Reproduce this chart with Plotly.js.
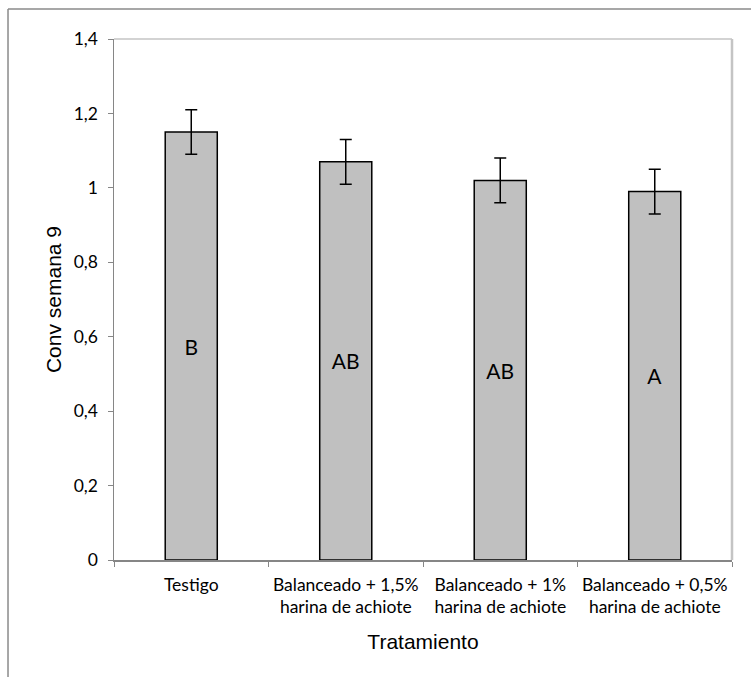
<!DOCTYPE html>
<html>
<head>
<meta charset="utf-8">
<script src="https://cdn.plot.ly/plotly-3.0.1.min.js"></script>
<style>
  html, body { margin: 0; padding: 0; background: #fff; }
  #chart { width: 751px; height: 677px; }
</style>
</head>
<body>
<div id="chart"></div>
<script>
// ---- data ----
var categories = [
  "Testigo",
  "Balanceado + 1,5%<br>harina de achiote",
  "Balanceado + 1%<br>harina de achiote",
  "Balanceado + 0,5%<br>harina de achiote"
];
var convValues = [1.15, 1.07, 1.02, 0.99];
var convErrors = [0.06, 0.06, 0.06, 0.06];
var groupLetters = ["B", "AB", "AB", "A"];
var yRange = [0, 1.4];
var yStep = 0.2;

var axisGray = "#868686";
var tickFont = { family: "Lato, 'Open Sans', sans-serif", size: 17.5, color: "#000" };
var titleFont = { family: "'Liberation Sans', Arial, sans-serif", size: 21, color: "#000" };

var n = categories.length;
var boundaryVals = [];
for (var i = 0; i <= n; i++) boundaryVals.push(i - 0.5);

var trace = {
  type: "bar",
  x: categories,
  y: convValues,
  text: groupLetters,
  textposition: "inside",
  insidetextanchor: "middle",
  textangle: 0,
  textfont: { family: "Lato, 'Open Sans', sans-serif", size: 21, color: "#000" },
  marker: { color: "#c0c0c0", line: { color: "#000", width: 1.5 } },
  error_y: { type: "data", array: convErrors, visible: true, color: "#000", thickness: 1.5, width: 6 },
  hoverinfo: "x+y"
};

var layout = {
  width: 751,
  height: 677,
  margin: { l: 114, r: 19, t: 39, b: 117 },
  paper_bgcolor: "#fff",
  plot_bgcolor: "#fff",
  showlegend: false,
  separators: ", ",
  bargap: 0.663,
  xaxis: {
    type: "category",
    tickson: "boundaries",
    tickangle: 0,
    ticks: "outside",
    ticklen: 5,
    tickcolor: axisGray,
    tickwidth: 1,
    showline: true,
    linecolor: axisGray,
    linewidth: 1.5,
    showgrid: false,
    zeroline: false,
    tickfont: tickFont,
    ticklabelstandoff: 8,
    automargin: false,
    title: { text: "Tratamiento", font: titleFont, standoff: 18 }
  },
  yaxis: {
    range: yRange,
    dtick: yStep,
    tick0: 0,
    ticks: "outside",
    ticklen: 5,
    tickcolor: axisGray,
    tickwidth: 1,
    showline: true,
    linecolor: axisGray,
    linewidth: 1.5,
    showgrid: false,
    zeroline: false,
    tickfont: tickFont,
    ticklabelstandoff: 6,
    automargin: false,
    title: { text: "Conv semana 9", font: titleFont, standoff: 6 }
  },
  xaxis2: {
    overlaying: "x",
    anchor: "y",
    range: [-0.5, n - 0.5],
    tickvals: boundaryVals,
    ticks: "inside",
    ticklen: 5,
    tickcolor: axisGray,
    showticklabels: false,
    showline: false,
    showgrid: false,
    zeroline: false
  },
  yaxis2: {
    overlaying: "y",
    anchor: "x",
    range: yRange,
    dtick: yStep,
    tick0: 0,
    ticks: "inside",
    ticklen: 5,
    tickcolor: axisGray,
    showticklabels: false,
    showline: false,
    showgrid: false,
    zeroline: false
  },
  shapes: [
    // plot area border (top and right)
    { type: "line", xref: "paper", yref: "paper", x0: 0, x1: 1, y0: 1, y1: 1, line: { color: "#c4c4c4", width: 1.5 }, layer: "below" },
    { type: "line", xref: "paper", yref: "paper", x0: 1, x1: 1, y0: 0, y1: 1, line: { color: "#c4c4c4", width: 2.5 }, layer: "below" },
    // outer chart frame (left and top visible)
    { type: "line", xref: "paper", yref: "paper", x0: -0.1715, x1: -0.1715, y0: -0.4, y1: 1.0576, line: { color: "#8a8a8a", width: 1.5 } },
    { type: "line", xref: "paper", yref: "paper", x0: -0.1715, x1: 1.2, y0: 1.0576, y1: 1.0576, line: { color: "#8a8a8a", width: 1.5 } }
  ]
};

Plotly.newPlot("chart", [trace], layout, { displayModeBar: false, staticPlot: true });
</script>
</body>
</html>
